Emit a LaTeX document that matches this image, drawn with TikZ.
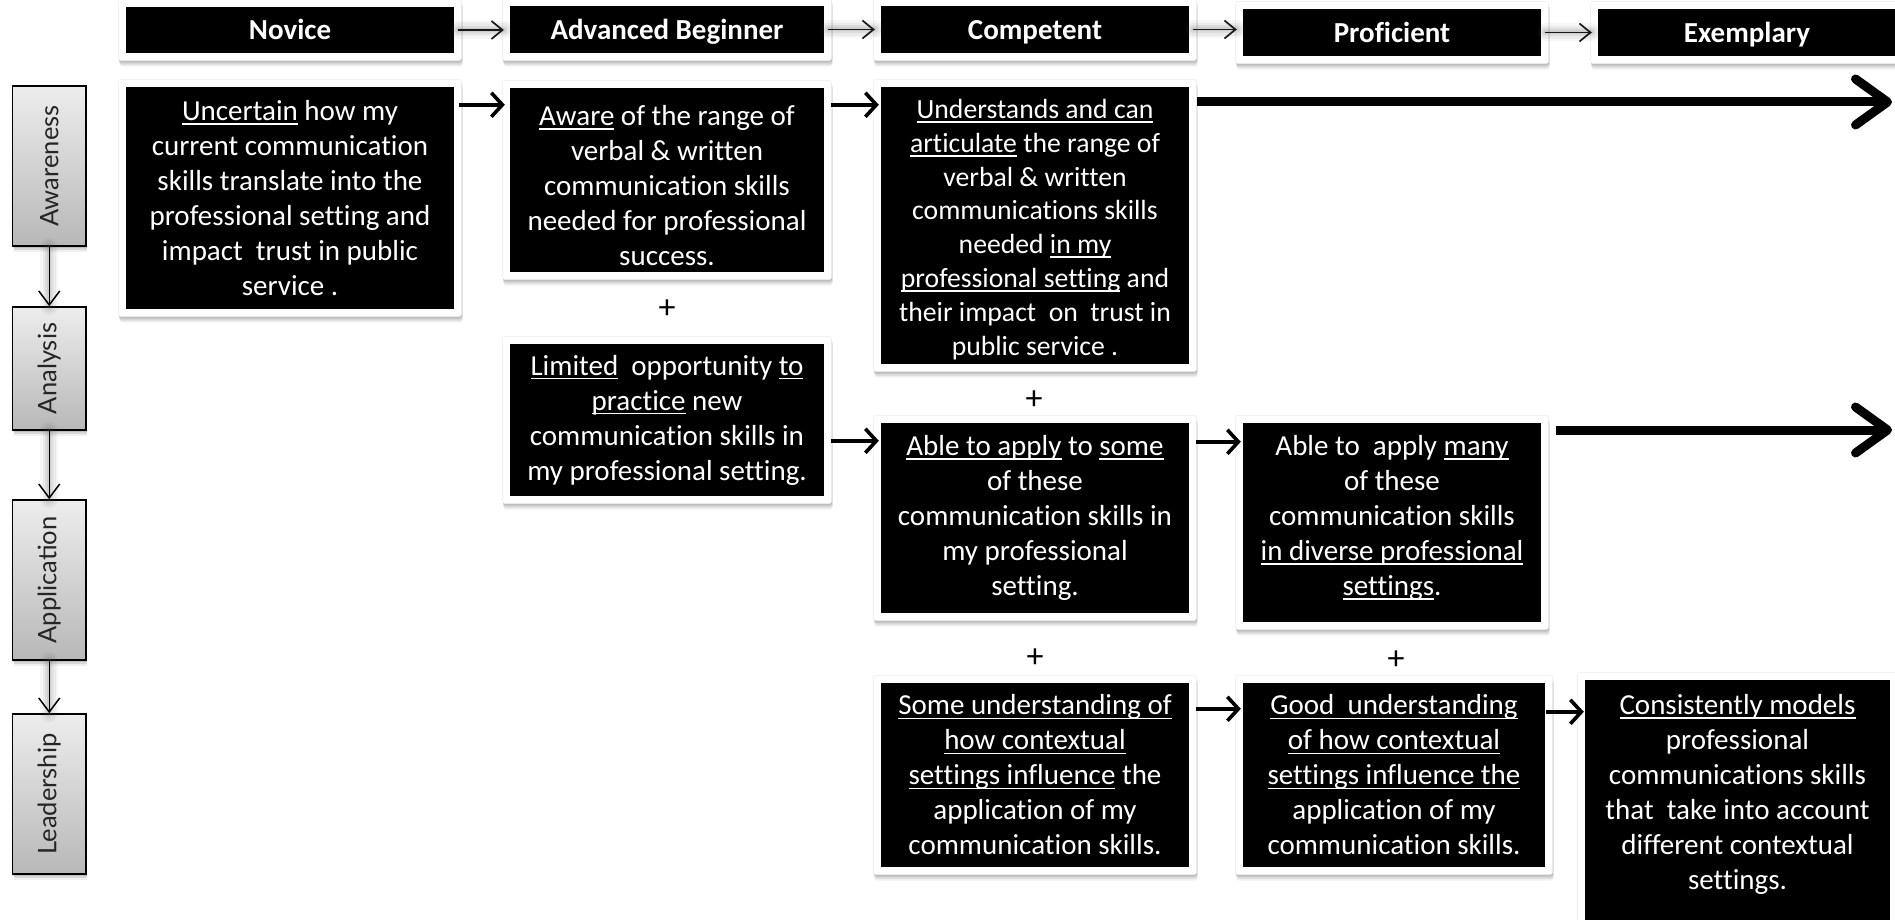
\documentclass[tikz,border=0pt]{standalone}
\usepackage{fontspec}
\setmainfont{Carlito}[Ligatures=NoCommon]
\newfontfamily\stagefont{Lato}
\usetikzlibrary{arrows.meta,fit,backgrounds,shadows}

% underline used inside the cells
\newsavebox\undlbox
\newcommand\undl[1]{\sbox\undlbox{#1}\rlap{\rule[-4.4pt]{\wd\undlbox}{1.6pt}}\usebox\undlbox}
% invisible struts that nudge a cell's text block down (first line) or up (last line)
\newcommand\tallline[1]{\rule{0pt}{#1}}
\newcommand\deepline[1]{\rule[-#1]{0pt}{#1}}
\newcommand\bodysize{\fontsize{29}{35}\selectfont}

\tikzset{
  cell/.style={fill=black, text=white, align=center, inner sep=0pt, font=\bodysize},
  headcell/.style={cell, font=\bodysize\bfseries, text height=22pt, text depth=2pt},
  softshadow/.style={
    general shadow={fill=black, opacity=0.06, shadow xshift=1pt, shadow yshift=-6pt},
    general shadow={fill=black, opacity=0.10, shadow xshift=1pt, shadow yshift=-4pt},
    general shadow={fill=black, opacity=0.12, shadow xshift=0.5pt, shadow yshift=-2pt}},
  cellframe/.style={fill=white, draw=black!8, line width=0.5pt, rounded corners=3pt,
    inner sep=7.5pt, softshadow},
  stagebox/.style={draw=black, line width=1.6pt, top color=black!7, bottom color=black!28,
    minimum width=73.5pt, inner sep=0pt, softshadow},
  stagetext/.style={rotate=90, font=\stagefont\fontsize{25.5}{30}\selectfont, text=black!85},
  % soft grey haze laid under the thin connectors
  glow/.style={
    preaction={draw=black!70, line width=18pt, opacity=0.05, arrows=-, line cap=round},
    preaction={draw=black!70, line width=13pt, opacity=0.07, arrows=-, line cap=round},
    preaction={draw=black!70, line width=8pt, opacity=0.09, arrows=-, line cap=round},
    preaction={draw=black!70, line width=4pt, opacity=0.10, arrows=-, line cap=round}},
  stagelink/.style={draw=black, line width=1.5pt, glow, -{Straight Barb[length=14pt,width=21pt]}},
  headlink/.style={draw=black!90, line width=1.7pt, glow, -{Straight Barb[length=11pt,width=18pt]},
    shorten <=4pt, shorten >=6pt},
  celllink/.style={draw=black, line width=3.6pt, -{Straight Barb[length=11pt,width=24pt]},
    shorten <=7pt, shorten >=2pt},
  longlink/.style={draw=black, line width=9pt, -{Straight Barb[round,length=32pt,width=46pt]}},
  plus/.style={font=\fontsize{34}{40}\selectfont, inner sep=0pt},
}

\begin{document}
\begin{tikzpicture}[x=1pt, y=-1pt]
\useasboundingbox (0,0) rectangle (1895,920);

% ---------- level headers ----------
\node[headcell, minimum width=328pt, minimum height=46pt] (hNov) at (290,30) {Novice};
\node[headcell, minimum width=314pt, minimum height=47pt] (hAdv) at (667,29.5) {Advanced Beginner};
\node[headcell, minimum width=308pt, minimum height=47pt] (hCom) at (1035,29.5) {Competent};
\node[headcell, minimum width=298pt, minimum height=47pt] (hPro) at (1392,32.5) {Proficient};
\node[headcell, minimum width=298pt, minimum height=47pt] (hExe) at (1747,32.5) {Exemplary};

% ---------- descriptor cells ----------
\node[cell, minimum width=328pt, minimum height=222pt] (nov) at (290,198)
  {\undl{Uncertain} how my\\current communication\\skills translate into the\\professional setting and\\impact~ trust in public\\service .};
\node[cell, minimum width=314pt, minimum height=184pt] (advA) at (667,180)
  {\tallline{31pt}\undl{Aware} of the range of\\verbal \& written\\communication skills\\needed for professional\\success.};
\node[cell, minimum width=314pt, minimum height=152pt] (advB) at (667,420)
  {\undl{Limited}~ opportunity \undl{to}\\\undl{practice} new\\communication skills in\\my professional setting.};
\node[cell, minimum width=308pt, minimum height=277pt, font=\fontsize{27.7}{33.8}\selectfont] (comA) at (1035,225.5)
  {\tallline{27pt}\undl{Understands and can}\\\undl{articulate} the range of\\verbal \& written\\communications skills\\needed \undl{in my}\\\undl{professional setting} and\\their impact~ on~ trust in\\public service .};
\node[cell, minimum width=308pt, minimum height=190pt] (comB) at (1035,518)
  {\undl{Able to apply} to \undl{some}\\of these\\communication skills in\\my professional\\setting.};
\node[cell, minimum width=308pt, minimum height=184pt] (comC) at (1035,775)
  {\undl{Some understanding of}\\\undl{how contextual}\\\undl{settings influence} the\\application of my\\communication skills.};
\node[cell, minimum width=298pt, minimum height=199pt] (proB) at (1392,522.5)
  {Able to~ apply \undl{many}\\of these\\communication skills\\\undl{in diverse professional}\\\undl{settings}.\deepline{14pt}};
\node[cell, minimum width=302pt, minimum height=184pt] (proC) at (1394,775)
  {\undl{Good~ understanding}\\\undl{of how contextual}\\\undl{settings influence the}\\application of my\\communication skills.};
\node[cell, minimum width=305pt, minimum height=240pt] (exeC) at (1737.5,800)
  {\undl{Consistently models}\\professional\\communications skills\\that~ take into account\\different contextual\\settings.\deepline{16pt}};

% white frames with soft shadows behind every black cell
\begin{scope}[on background layer]
\foreach \n in {hNov,hAdv,hCom,hPro,hExe,nov,advA,advB,comA,comB,comC,proB,proC,exeC}
  \node[cellframe, fit=(\n)] (f\n) {};
\end{scope}

% ---------- plus signs ----------
\node[plus] (plA) at (667,309) {+};
\node[plus] (plB) at (1034,400) {+};
\node[plus] (plC) at (1035,658) {+};
\node[plus] (plD) at (1396,660) {+};

% ---------- header progression ----------
\draw[headlink] (hNov.east) -- (hNov.east -| hAdv.west);
\draw[headlink] (hAdv.east) -- (hAdv.east -| hCom.west);
\draw[headlink] (hCom.east) -- (hCom.east -| hPro.west);
\draw[headlink] (hPro.east) -- (hPro.east -| hExe.west);

% ---------- cell progression ----------
\draw[celllink, shorten <=5pt, shorten >=5pt] ([yshift=-18pt]nov.north east) -- ([yshift=-17pt]advA.north west);
\draw[celllink] ([yshift=-17pt]advA.north east) -- ([yshift=-18pt]comA.north west);
\draw[celllink] ([yshift=-97pt]advB.north east) -- ([yshift=-18pt]comB.north west);
\draw[celllink] ([yshift=-19pt]comB.north east) -- ([yshift=-19pt]proB.north west);
\draw[celllink] ([yshift=-26pt]comC.north east) -- ([yshift=-26pt]proC.north west);
\draw[celllink, shorten <=1pt, shorten >=1pt] ([yshift=-29pt]proC.north east) -- ([yshift=-32pt]exeC.north west);

% long arrows running to the right edge
\coordinate (endA) at (1892,102);
\coordinate (endB) at (1892,430);
\draw[longlink, shorten <=8pt] (comA.east |- endA) -- (endA);
\draw[longlink, shorten <=15pt] (proB.east |- endB) -- (endB);

% ---------- stages on the left ----------
\node[stagebox, minimum height=160pt, label={[stagetext]center:Awareness}] (sAw) at (49.25,166) {};
\node[stagebox, minimum height=123pt, label={[stagetext]center:Analysis}] (sAn) at (49.25,368.5) {};
\node[stagebox, minimum height=160pt, label={[stagetext]center:Application}] (sAp) at (49.25,580) {};
\node[stagebox, minimum height=160pt, label={[stagetext]center:Leadership}] (sLe) at (49.25,794) {};
\draw[stagelink] (sAw) -- (sAn);
\draw[stagelink] (sAn) -- (sAp);
\draw[stagelink] (sAp) -- (sLe);
\end{tikzpicture}
\end{document}
